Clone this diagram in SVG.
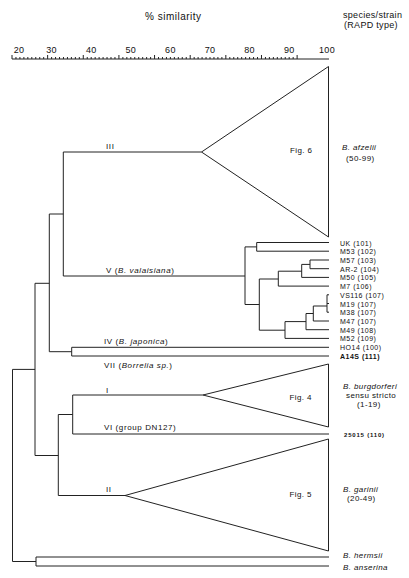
<svg xmlns="http://www.w3.org/2000/svg" width="409" height="578" viewBox="0 0 409 578">
<style>
text{font-family:"Liberation Sans",Arial,sans-serif;fill:#111}
.ax{font-size:9px;text-anchor:middle;letter-spacing:0.3px}
.hd{font-size:9px;letter-spacing:0.3px}
.tl{font-size:8px;letter-spacing:0.6px}
.lf{font-size:7px;letter-spacing:0.5px}
.sp{font-size:8px;letter-spacing:0.4px}
.fg{font-size:8px;letter-spacing:0.4px}
.ln{fill:none;stroke:#222;stroke-width:1}
.tri{fill:none;stroke:#222;stroke-width:1;stroke-linejoin:miter}
</style>
<rect width="409" height="578" fill="#fff"/>
<g id="title">
<text x="145" y="19.5" style="font-size:10px;letter-spacing:0.5px">% similarity</text>
<text class="hd" x="343" y="18">species/strain</text>
<text class="hd" x="344" y="27.5">(RAPD type)</text>
</g>
<g id="axis">
<path class="ln" d="M12 59H329"/>
<path class="ln" d="M12 59v-4m3.96 4v-2m3.96 2v-2m3.96 2v-2m3.96 2v-2m3.96 2v-2m3.96 2v-2m3.96 2v-2m3.96 2v-2m3.96 2v-4m3.96 4v-2m3.96 2v-2m3.96 2v-2m3.96 2v-2m3.96 2v-2m3.96 2v-2m3.96 2v-2m3.96 2v-2m3.96 2v-4m3.96 4v-2m3.96 2v-2m3.96 2v-2m3.96 2v-2m3.96 2v-2m3.96 2v-2m3.96 2v-2m3.96 2v-2m3.96 2v-4m3.96 4v-2m3.96 2v-2m3.96 2v-2m3.96 2v-2m3.96 2v-2m3.96 2v-2m3.96 2v-2m3.96 2v-2m3.96 2v-4m3.96 4v-2m3.96 2v-2m3.96 2v-2m3.96 2v-2m3.96 2v-2m3.96 2v-2m3.96 2v-2m3.96 2v-2m3.96 2v-4m3.96 4v-2m3.96 2v-2m3.96 2v-2m3.96 2v-2m3.96 2v-2m3.96 2v-2m3.96 2v-2m3.96 2v-2m3.96 2v-4m3.96 4v-2m3.96 2v-2m3.96 2v-2m3.96 2v-2m3.96 2v-2m3.96 2v-2m3.96 2v-2m3.96 2v-2m3.96 2v-4m3.96 4v-2m3.96 2v-2m3.96 2v-2m3.96 2v-2m3.96 2v-2m3.96 2v-2m3.96 2v-2m3.96 2v-2m3.96 2v-4"/>
<text class="ax" x="19" y="52.5">20</text>
<text class="ax" x="51.6" y="52.5">30</text>
<text class="ax" x="91.2" y="52.5">40</text>
<text class="ax" x="130.8" y="52.5">50</text>
<text class="ax" x="170.4" y="52.5">60</text>
<text class="ax" x="210" y="52.5">70</text>
<text class="ax" x="249.6" y="52.5">80</text>
<text class="ax" x="289.2" y="52.5">90</text>
<text class="ax" x="327" y="52.5">100</text>
</g>
<g id="connectors">
<path class="ln" d="M12.5 369.4V561.5M12.5 369.4H35M12.5 561.5H36M36 557V566M36 557H329M36 566H329"/>
<path class="ln" d="M35 283.3V455.5M35 283.3H49.3M35 455.5H58.3"/>
<path class="ln" d="M49.3 214V351.7M49.3 214H63.3M49.3 351.7H71.7"/>
<path class="ln" d="M63.3 152V276M63.3 152H201.5M63.3 276H245"/>
<path class="ln" d="M71.7 347.3V356M71.7 347.3H329M71.7 356H329"/>
<path class="ln" d="M58.3 414.5V495.5M58.3 414.5H72.7M58.3 495.5H125"/>
<path class="ln" d="M72.7 395V434M72.7 395H203M72.7 434H329"/>
<path class="ln" d="M245 246.9V304.5M245 246.9H256.7M245 304.5H259.3"/>
<path class="ln" d="M256.7 242.5V251.2M256.7 242.5H329M256.7 251.2H329"/>
<path class="ln" d="M259.3 279V330.2M259.3 279H278.3M259.3 330.2H285"/>
<path class="ln" d="M278.3 271.2V286.1M278.3 271.2H301.7M278.3 286.1H329"/>
<path class="ln" d="M301.7 264.4V277.4M301.7 264.4H310M301.7 277.4H329"/>
<path class="ln" d="M310 260V268.7M310 260H329M310 268.7H329"/>
<path class="ln" d="M285 321.6V338.4M285 321.6H306M285 338.4H329"/>
<path class="ln" d="M306 313.5V329.7M306 313.5H313.3M306 329.7H329"/>
<path class="ln" d="M313.3 306V321M313.3 306H327M313.3 321H329"/>
<path class="ln" d="M327 294.8V312.2M327 294.8H329M327 303.5H329M327 312.2H329"/>
</g>
<g id="cluster-III">
<path class="tri" d="M201.5 152L328.5 66.5V237Z"/>
<text class="tl" x="106" y="149">III</text>
<text class="fg" x="290" y="153">Fig. 6</text>
</g>
<g id="cluster-V"><text class="tl" x="106" y="273">V (<tspan font-style="italic">B. valaisiana</tspan>)</text></g>
<g id="cluster-IV"><text class="tl" x="104" y="344">IV (<tspan font-style="italic">B. japonica</tspan>)</text></g>
<g id="cluster-VII"><text class="tl" x="104" y="367.5">VII (<tspan font-style="italic">Borrelia sp.</tspan>)</text></g>
<g id="cluster-I">
<path class="tri" d="M203 395L328.5 364V427Z"/>
<text class="tl" x="106" y="393">I</text>
<text class="fg" x="289.5" y="399.5">Fig. 4</text>
</g>
<g id="cluster-VI"><text class="tl" x="104" y="430">VI (group DN127)</text></g>
<g id="cluster-II">
<path class="tri" d="M125 495.5L328.5 439V551Z"/>
<text class="tl" x="106" y="492">II</text>
<text class="fg" x="289.5" y="497">Fig. 5</text>
</g>
<g id="species-afzelii"><text class="sp" x="342" y="150" font-style="italic">B. afzelii</text><text class="sp" x="346" y="161">(50-99)</text></g>
<g id="species-burgdorferi"><text class="sp" x="343" y="389" font-style="italic">B. burgdorferi</text><text class="sp" x="346" y="398">sensu stricto</text><text class="sp" x="357" y="407">(1-19)</text></g>
<g id="species-garinii"><text class="sp" x="343" y="492" font-style="italic">B. garinii</text><text class="sp" x="347" y="500.5">(20-49)</text></g>
<g id="species-hermsii"><text class="sp" x="343" y="558" font-style="italic">B. hermsii</text></g>
<g id="species-anserina"><text class="sp" x="343" y="569.5" font-style="italic">B. anserina</text></g>
<g id="leaf-UK"><text class="lf" x="340" y="245.5">UK (101)</text></g>
<g id="leaf-M53"><text class="lf" x="340" y="254.2">M53 (102)</text></g>
<g id="leaf-M57"><text class="lf" x="340" y="263">M57 (103)</text></g>
<g id="leaf-AR2"><text class="lf" x="340" y="271.7">AR-2 (104)</text></g>
<g id="leaf-M50"><text class="lf" x="340" y="280.4">M50 (105)</text></g>
<g id="leaf-M7"><text class="lf" x="340" y="289.1">M7 (106)</text></g>
<g id="leaf-VS116"><text class="lf" x="340" y="297.8">VS116 (107)</text></g>
<g id="leaf-M19"><text class="lf" x="340" y="306.5">M19 (107)</text></g>
<g id="leaf-M38"><text class="lf" x="340" y="315.2">M38 (107)</text></g>
<g id="leaf-M47"><text class="lf" x="340" y="324">M47 (107)</text></g>
<g id="leaf-M49"><text class="lf" x="340" y="332.7">M49 (108)</text></g>
<g id="leaf-M52"><text class="lf" x="340" y="341.4">M52 (109)</text></g>
<g id="leaf-HO14"><text class="lf" x="340" y="350.3">HO14 (100)</text></g>
<g id="leaf-A14S"><text class="lf" x="340" y="359" font-weight="bold">A14S (111)</text></g>
<g id="leaf-25015"><text x="344" y="436.5" font-weight="bold" style="font-size:6px;letter-spacing:0.8px">25015 (110)</text></g>
</svg>
